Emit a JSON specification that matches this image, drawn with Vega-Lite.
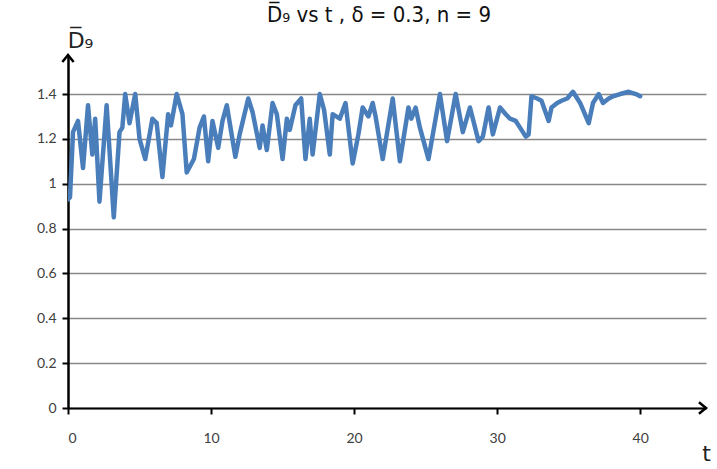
{
  "$schema": "https://vega.github.io/schema/vega-lite/v6.json",
  "width": 638,
  "height": 353,
  "autosize": "none",
  "padding": {"left": 68, "top": 55, "right": 11, "bottom": 61},
  "background": "white",
  "config": {
    "view": {"stroke": null},
    "font": "Lato"
  },
  "title": {
    "text": "D̅₉ vs  t ,  δ = 0.3, n = 9",
    "font": "DejaVu Sans Condensed, DejaVu Sans",
    "fontSize": 22,
    "fontWeight": "normal",
    "color": "#111111",
    "offset": 2,
    "dx": -8
  },
  "datasets": {
    "series": [
      {"t": 0.0, "d": 0.93}, {"t": 0.14, "d": 0.94}, {"t": 0.35, "d": 1.23}, {"t": 0.7, "d": 1.28},
      {"t": 1.05, "d": 1.07}, {"t": 1.4, "d": 1.35}, {"t": 1.7, "d": 1.13}, {"t": 1.9, "d": 1.29},
      {"t": 2.2, "d": 0.92}, {"t": 2.7, "d": 1.35}, {"t": 3.2, "d": 0.85}, {"t": 3.6, "d": 1.23},
      {"t": 3.8, "d": 1.25}, {"t": 4.0, "d": 1.40}, {"t": 4.3, "d": 1.27}, {"t": 4.7, "d": 1.40},
      {"t": 5.0, "d": 1.20}, {"t": 5.4, "d": 1.11}, {"t": 5.9, "d": 1.29}, {"t": 6.2, "d": 1.27},
      {"t": 6.6, "d": 1.03}, {"t": 7.0, "d": 1.31}, {"t": 7.2, "d": 1.26}, {"t": 7.6, "d": 1.40},
      {"t": 8.0, "d": 1.31}, {"t": 8.3, "d": 1.05}, {"t": 8.8, "d": 1.11}, {"t": 9.2, "d": 1.25},
      {"t": 9.5, "d": 1.30}, {"t": 9.8, "d": 1.10}, {"t": 10.1, "d": 1.28}, {"t": 10.5, "d": 1.16},
      {"t": 10.8, "d": 1.28}, {"t": 11.1, "d": 1.35}, {"t": 11.7, "d": 1.12}, {"t": 12.0, "d": 1.22},
      {"t": 12.6, "d": 1.38}, {"t": 12.9, "d": 1.32}, {"t": 13.4, "d": 1.16}, {"t": 13.6, "d": 1.26},
      {"t": 13.9, "d": 1.15}, {"t": 14.3, "d": 1.36}, {"t": 14.6, "d": 1.31}, {"t": 15.0, "d": 1.11},
      {"t": 15.3, "d": 1.29}, {"t": 15.5, "d": 1.24}, {"t": 15.9, "d": 1.35}, {"t": 16.3, "d": 1.38},
      {"t": 16.6, "d": 1.11}, {"t": 16.9, "d": 1.29}, {"t": 17.1, "d": 1.13}, {"t": 17.6, "d": 1.40},
      {"t": 17.9, "d": 1.33}, {"t": 18.3, "d": 1.13}, {"t": 18.5, "d": 1.31}, {"t": 19.0, "d": 1.29},
      {"t": 19.4, "d": 1.36}, {"t": 19.9, "d": 1.09}, {"t": 20.3, "d": 1.22}, {"t": 20.6, "d": 1.34},
      {"t": 21.0, "d": 1.30}, {"t": 21.3, "d": 1.36}, {"t": 21.5, "d": 1.30}, {"t": 22.0, "d": 1.11},
      {"t": 22.7, "d": 1.38}, {"t": 23.2, "d": 1.10}, {"t": 23.8, "d": 1.34}, {"t": 24.0, "d": 1.29},
      {"t": 24.3, "d": 1.34}, {"t": 24.6, "d": 1.25}, {"t": 25.2, "d": 1.11}, {"t": 26.0, "d": 1.40},
      {"t": 26.5, "d": 1.19}, {"t": 27.1, "d": 1.40}, {"t": 27.6, "d": 1.23}, {"t": 28.1, "d": 1.34},
      {"t": 28.7, "d": 1.19}, {"t": 29.0, "d": 1.21}, {"t": 29.4, "d": 1.34}, {"t": 29.7, "d": 1.22},
      {"t": 30.2, "d": 1.34}, {"t": 30.6, "d": 1.31}, {"t": 30.9, "d": 1.29}, {"t": 31.3, "d": 1.28},
      {"t": 31.6, "d": 1.25}, {"t": 32.0, "d": 1.21}, {"t": 32.2, "d": 1.22}, {"t": 32.4, "d": 1.39},
      {"t": 32.8, "d": 1.38}, {"t": 33.1, "d": 1.37}, {"t": 33.6, "d": 1.28}, {"t": 33.8, "d": 1.34},
      {"t": 34.2, "d": 1.36}, {"t": 34.5, "d": 1.37}, {"t": 34.9, "d": 1.38}, {"t": 35.3, "d": 1.41},
      {"t": 35.8, "d": 1.36}, {"t": 36.4, "d": 1.27}, {"t": 36.7, "d": 1.36}, {"t": 37.1, "d": 1.40},
      {"t": 37.4, "d": 1.36}, {"t": 37.8, "d": 1.38}, {"t": 38.1, "d": 1.39}, {"t": 38.6, "d": 1.40},
      {"t": 39.2, "d": 1.41}, {"t": 39.7, "d": 1.40}, {"t": 40.0, "d": 1.39}
    ],
    "arrows": [
      {"t": 44.6, "d": 0, "dir": "right"},
      {"t": 0, "d": 1.574, "dir": "up"}
    ]
  },
  "layer": [
    {
      "data": {"name": "series"},
      "mark": {"type": "line", "color": "#4A7EBB", "strokeWidth": 4.5, "strokeJoin": "round", "strokeCap": "round", "clip": true},
      "encoding": {
        "x": {
          "field": "t",
          "type": "quantitative",
          "scale": {"domain": [0, 44.6], "nice": false, "zero": false},
          "axis": {
            "values": [0, 10, 20, 30, 40],
            "format": "~g",
            "grid": false,
            "domainColor": "black",
            "domainWidth": 2,
            "tickColor": "black",
            "tickWidth": 2,
            "tickSize": 6,
            "labelFont": "Lato",
            "labelFontSize": 14,
            "labelColor": "#404040",
            "labelPadding": 17,
            "title": "t",
            "titleFont": "DejaVu Sans",
            "titleFontSize": 22,
            "titleFontWeight": "normal",
            "titleColor": "#222222",
            "titleAlign": "center",
            "titleBaseline": "alphabetic",
            "titleX": 638,
            "titleY": 52
          }
        },
        "y": {
          "field": "d",
          "type": "quantitative",
          "scale": {"domain": [0, 1.574], "nice": false, "zero": false},
          "axis": {
            "values": [0, 0.2, 0.4, 0.6, 0.8, 1, 1.2, 1.4],
            "format": "~g",
            "grid": true,
            "gridColor": "#888888",
            "gridWidth": 1.5,
            "domainColor": "black",
            "domainWidth": 2.5,
            "tickColor": "black",
            "tickWidth": 2,
            "tickSize": 6,
            "labelFont": "Lato",
            "labelFontSize": 14,
            "labelColor": "#404040",
            "labelPadding": 6,
            "title": "D̅₉",
            "titleFont": "DejaVu Sans",
            "titleFontSize": 22,
            "titleFontWeight": "normal",
            "titleColor": "#222222",
            "titleAngle": 0,
            "titleAlign": "center",
            "titleBaseline": "alphabetic",
            "titleX": 12,
            "titleY": -8
          }
        }
      }
    },
    {
      "data": {"name": "arrows"},
      "mark": {"type": "point", "filled": false, "stroke": "black", "strokeWidth": 2.5, "size": 200, "opacity": 1, "clip": false},
      "encoding": {
        "x": {"field": "t", "type": "quantitative"},
        "y": {"field": "d", "type": "quantitative"},
        "shape": {
          "field": "dir",
          "type": "nominal",
          "scale": {
            "domain": ["right", "up"],
            "range": ["M -1 -0.8 L 0 0 L -1 0.8", "M -0.8 1 L 0 0 L 0.8 1"]
          },
          "legend": null
        }
      }
    }
  ]
}
